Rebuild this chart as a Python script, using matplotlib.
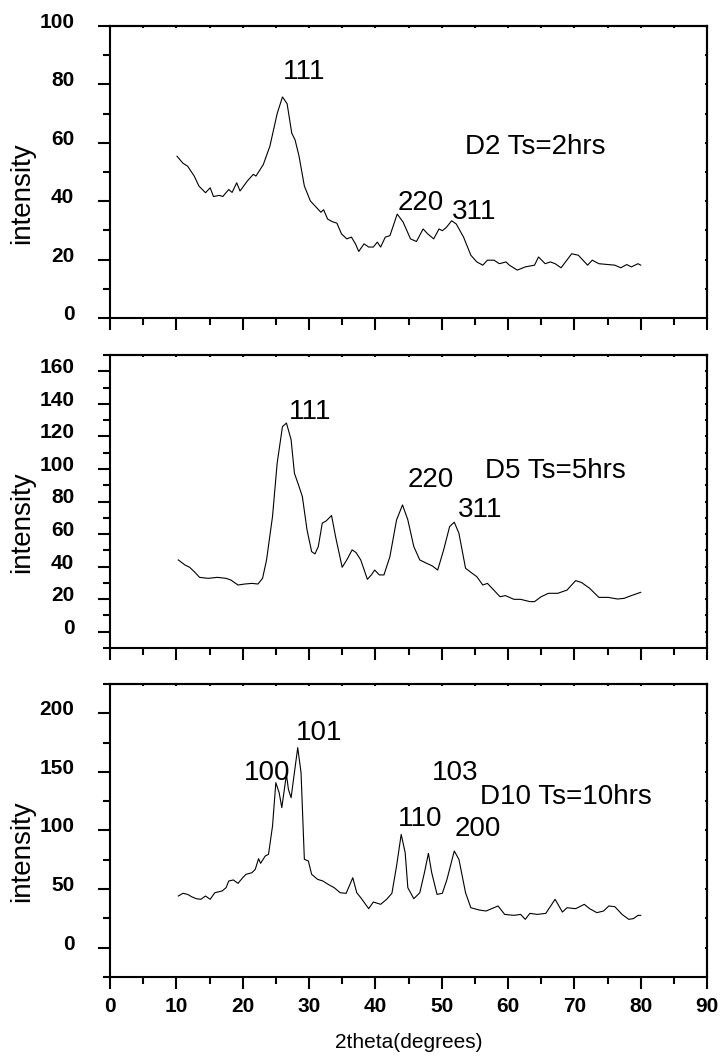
import matplotlib
matplotlib.use('Agg')
import matplotlib.pyplot as plt
from matplotlib.ticker import MultipleLocator
from matplotlib.transforms import ScaledTranslation

# ---------------- data ----------------
x_d2 = [10.1, 11.0, 11.7, 12.7, 13.4, 14.4, 15.1, 15.6, 16.5, 17.0, 17.9, 18.4, 19.1, 19.6,
        20.7, 21.6, 22.0, 23.1, 24.1, 25.2, 26.0, 26.7, 27.4, 27.9, 28.5, 29.3, 30.2, 31.1,
        31.8, 32.2, 32.8, 33.5, 34.2, 34.9, 35.7, 36.4, 37.0, 37.5, 38.3, 39.0, 39.7, 40.3,
        40.8, 41.5, 42.2, 43.3, 44.2, 45.3, 46.2, 47.2, 47.9, 48.8, 49.6, 50.1, 50.7, 51.5,
        52.2, 53.3, 54.4, 55.3, 56.2, 56.9, 57.9, 58.7, 59.7, 60.2, 61.4, 62.6, 64.0, 64.6,
        65.6, 66.4, 67.1, 68.0, 69.6, 70.6, 72.0, 72.7, 73.7, 75.1, 76.1, 77.0, 77.9, 78.6,
        79.6, 80.0]
y_d2 = [55.4, 53.0, 52.0, 48.6, 45.2, 42.9, 44.6, 41.6, 42.0, 41.6, 44.0, 43.0, 46.3, 43.5,
        46.9, 49.2, 48.6, 52.5, 58.8, 70.0, 75.7, 73.4, 63.3, 61.0, 55.4, 45.2, 40.1, 37.9,
        36.2, 37.1, 33.9, 33.0, 32.5, 28.8, 27.1, 27.7, 25.4, 22.8, 25.4, 24.3, 24.3, 26.0,
        24.3, 27.7, 28.2, 35.6, 32.8, 27.1, 26.2, 30.5, 28.8, 27.1, 30.5, 29.9, 31.0, 33.3,
        32.2, 27.7, 21.5, 19.2, 18.1, 19.8, 19.8, 18.6, 19.2, 18.1, 16.4, 17.5, 18.1, 20.9,
        18.6, 19.2, 18.6, 17.2, 22.0, 21.5, 18.1, 19.8, 18.6, 18.3, 18.1, 17.2, 18.3, 17.5,
        18.6, 18.1]

x_d5 = [10.3, 11.3, 12.0, 12.7, 13.5, 14.8, 16.2, 17.5, 18.2, 19.3, 20.3, 21.4, 22.3, 23.0,
        23.6, 24.5, 25.2, 26.0, 26.6, 27.3, 27.8, 28.5, 29.0, 29.7, 30.4, 30.9, 31.4, 32.0,
        32.6, 33.4, 34.0, 35.0, 35.7, 36.5, 37.1, 37.8, 38.8, 39.4, 39.9, 40.6, 41.3, 42.2,
        43.2, 44.1, 44.9, 45.8, 46.7, 47.7, 48.6, 49.4, 50.3, 51.2, 51.9, 52.6, 53.6, 54.4,
        55.3, 56.2, 56.9, 57.6, 58.8, 59.6, 60.9, 61.9, 63.3, 64.0, 65.0, 66.1, 67.5, 68.9,
        70.2, 71.1, 72.3, 73.7, 75.1, 76.5, 77.5, 78.6, 80.0]
y_d5 = [44.1, 41.0, 39.6, 36.9, 33.4, 32.8, 33.4, 32.8, 31.8, 28.7, 29.3, 29.7, 29.3, 32.8,
        44.1, 70.8, 103.6, 126.0, 128.2, 118.0, 97.4, 89.2, 83.0, 62.6, 49.2, 47.8, 52.3, 66.7,
        68.1, 71.4, 58.5, 39.6, 44.1, 50.3, 48.6, 44.1, 32.2, 34.9, 37.9, 34.9, 34.9, 46.2,
        68.7, 77.9, 68.7, 52.3, 44.1, 42.1, 40.4, 37.9, 50.3, 64.6, 67.3, 60.5, 39.0, 36.5,
        33.8, 28.7, 29.7, 26.7, 21.5, 22.2, 19.9, 19.9, 18.5, 18.5, 21.5, 23.6, 23.6, 25.6,
        31.4, 30.2, 26.7, 21.1, 21.1, 20.1, 20.5, 22.2, 24.2]

x_d10 = [10.3, 11.0, 11.7, 12.3, 13.0, 13.7, 14.4, 15.1, 15.8, 16.9, 17.5, 17.9, 18.6, 19.3,
         20.0, 20.5, 21.4, 21.9, 22.4, 22.7, 23.4, 23.9, 24.5, 25.0, 25.5, 25.9, 26.6, 26.9,
         27.3, 27.8, 28.3, 28.8, 29.3, 29.9, 30.4, 31.3, 32.1, 32.9, 33.8, 34.7, 35.6, 36.6,
         37.2, 37.8, 39.0, 39.7, 40.8, 41.7, 42.5, 43.2, 43.9, 44.5, 44.9, 45.8, 46.7, 47.4,
         48.0, 48.5, 49.3, 50.1, 50.8, 51.9, 52.6, 53.6, 54.4, 55.7, 56.7, 58.5, 59.5, 60.9,
         61.9, 62.6, 63.3, 64.4, 65.7, 67.1, 68.2, 68.9, 70.2, 71.5, 72.3, 73.4, 74.4, 75.2,
         76.1, 77.2, 78.2, 78.9, 79.6, 80.0]
y_d10 = [44.1, 46.4, 45.5, 43.5, 41.8, 41.3, 44.1, 41.3, 46.9, 48.4, 51.2, 56.9, 57.8, 54.9,
         59.7, 62.6, 64.0, 66.9, 76.0, 72.0, 78.2, 79.7, 103.8, 140.8, 132.3, 119.5, 147.9, 135.0,
         128.0, 149.4, 170.7, 149.4, 75.4, 74.0, 62.6, 58.3, 56.9, 54.0, 51.2, 46.9, 46.4, 59.7,
         46.9, 42.7, 33.3, 39.0, 37.0, 41.3, 46.4, 69.7, 96.7, 81.0, 51.2, 41.8, 46.9, 64.0,
         80.5, 64.0, 45.5, 46.4, 58.3, 82.5, 75.4, 46.9, 34.1, 32.1, 31.3, 35.6, 28.4, 27.6,
         28.4, 24.2, 29.3, 28.4, 29.3, 41.3, 30.4, 34.1, 33.3, 37.0, 33.3, 29.9, 31.3, 35.6,
         35.0, 28.4, 24.2, 24.8, 27.6, 27.6]

# peak labels: (text, x, y)
labels_d2 = [('111', 29.2, 84.4), ('220', 46.9, 39.4), ('311', 54.9, 36.4),
             ('D2 Ts=2hrs', 64.1, 58.6)]
labels_d5 = [('111', 30.2, 134.8), ('220', 48.4, 93.5), ('311', 55.8, 74.5),
             ('D5 Ts=5hrs', 67.2, 98.7)]
labels_d10 = [('100', 23.7, 149.4), ('101', 31.6, 183.2), ('103', 52.1, 148.8),
              ('D10 Ts=10hrs', 68.7, 128.9), ('110', 46.8, 109.8), ('200', 55.4, 101.0)]

plt.rcParams['font.family'] = 'Liberation Sans'

fig = plt.figure(figsize=(7.21, 10.58), dpi=100)

left, width = 110 / 721, 597 / 721
panels = [
    # bottom, height, x, y, labels, ylim, major, minor
    (0.69943, 0.27599, x_d2, y_d2, labels_d2, (0, 100), 20, 10),
    (0.38752, 0.27694, x_d5, y_d5, labels_d5, (-10, 170), 20, 10),
    (0.07656, 0.27694, x_d10, y_d10, labels_d10, (-25, 225), 50, 25),
]

lift = ScaledTranslation(0, 4 / 72, fig.dpi_scale_trans)

axes = []
for i, (bot, h, xs, ys, labs, ylim, maj, mnr) in enumerate(panels):
    ax = fig.add_axes([left, bot, width, h])
    ax.plot(xs, ys, color='black', linewidth=0.8)
    for txt, tx, ty in labs:
        ax.text(tx, ty, txt, fontsize=20, ha='center', va='center')

    ax.set_xlim(0, 90)
    ax.set_ylim(*ylim)
    ax.xaxis.set_major_locator(MultipleLocator(10))
    ax.xaxis.set_minor_locator(MultipleLocator(5))
    ax.yaxis.set_major_locator(MultipleLocator(maj))
    ax.yaxis.set_minor_locator(MultipleLocator(mnr))

    for sp in ax.spines.values():
        sp.set_linewidth(1.5)

    ax.tick_params(which='both', direction='out', width=1.5)
    ax.tick_params(which='major', length=8.7)
    ax.tick_params(which='minor', length=4.8)
    ax.tick_params(axis='y', which='major', pad=17, labelsize=15)
    ax.tick_params(axis='x', which='major', pad=6, labelsize=15)
    if i < 2:
        ax.tick_params(axis='x', labelbottom=False)

    # little inward ticks along top and right edges
    top = ax.secondary_xaxis('top')
    top.xaxis.set_major_locator(MultipleLocator(5))
    top.tick_params(direction='in', length=1.5, width=1.5, labeltop=False)
    top.spines['top'].set_linewidth(1.5)
    rgt = ax.secondary_yaxis('right')
    rgt.yaxis.set_major_locator(MultipleLocator(mnr))
    rgt.tick_params(direction='in', length=1.5, width=1.5, labelright=False)
    rgt.spines['right'].set_linewidth(1.5)

    for lab in ax.get_yticklabels() + ax.get_xticklabels():
        lab.set_fontweight('bold')
    for lab in ax.get_yticklabels():
        lab.set_transform(lab.get_transform() + lift)

    ax.set_ylabel('intensity', fontsize=20)
    ax.yaxis.set_label_coords(-0.126, 0.428)
    axes.append(ax)

axes[2].set_xlabel('2theta(degrees)', fontsize=15)
axes[2].xaxis.set_label_coords(0.5, -0.191)

fig.savefig('out.png', dpi=100)
